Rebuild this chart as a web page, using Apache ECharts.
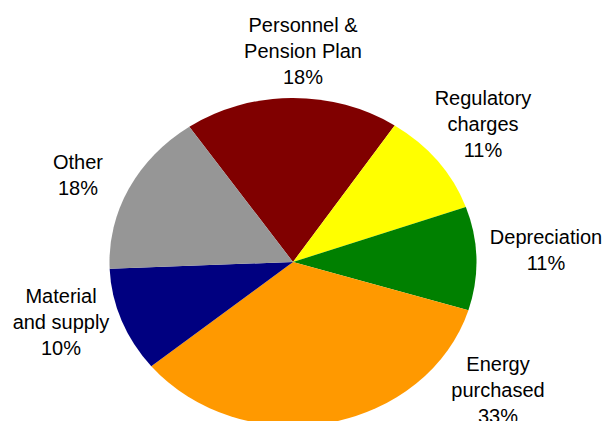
<!DOCTYPE html>
<html>
<head>
<meta charset="utf-8">
<script src="https://cdn.jsdelivr.net/npm/echarts@6/dist/echarts.min.js"></script>
<style>
  html, body { margin: 0; padding: 0; background: #fff; overflow: hidden; }
  #wrap { position: relative; width: 607px; height: 421px; overflow: hidden; }
  #pie, #labels { position: absolute; left: 0; top: 0; width: 607px; height: 421px; }
  #pie { transform-origin: 293px 262px; transform: scaleX(1.119); }
  #labels { pointer-events: none; }
</style>
</head>
<body>
<div id="wrap">
  <div id="pie"></div>
  <div id="labels"></div>
</div>
<script>
// ---- data ----
const categories = ['Personnel &\nPension Plan', 'Regulatory\ncharges', 'Depreciation', 'Energy\npurchased', 'Material\nand supply', 'Other'];
const values = [18.9, 10.2, 10.2, 34.3, 10.3, 16.1];
const pctLabels = ['18%', '11%', '11%', '33%', '10%', '18%'];

// ---- style / layout ----
const colors = ['#800000', '#FFFF00', '#008000', '#FF9900', '#000080', '#969696'];
const CENTER = [293, 262];
const RADIUS = 164;
const START = 124.4;
const labelPos = [[303, 51], [483, 124], [546, 250], [498, 390], [61, 322], [78, 175]];

const seriesData = categories.map((c, i) => ({ name: c, value: values[i] }));

const pie = echarts.init(document.getElementById('pie'), null, { renderer: 'svg' });
pie.setOption({
  animation: false,
  series: [{
    type: 'pie',
    center: CENTER,
    radius: [0, RADIUS],
    startAngle: START,
    clockwise: true,
    label: { show: false },
    labelLine: { show: false },
    itemStyle: { borderWidth: 0 },
    emphasis: { disabled: true },
    data: seriesData.map((d, i) => ({ ...d, itemStyle: { color: colors[i] } }))
  }]
});

const lab = echarts.init(document.getElementById('labels'), null, { renderer: 'svg' });
lab.setOption({
  animation: false,
  series: [{
    type: 'pie',
    center: CENTER,
    radius: [0, RADIUS],
    startAngle: START,
    clockwise: true,
    silent: true,
    itemStyle: { color: 'rgba(0,0,0,0)', borderWidth: 0 },
    labelLine: { show: false },
    label: {
      show: true,
      position: 'outside',
      alignTo: 'none',
      overflow: 'none',
      width: 200,
      color: '#000',
      fontFamily: 'Liberation Sans',
      fontSize: 20,
      lineHeight: 26,
      align: 'center',
      formatter: p => p.name + '\n' + pctLabels[p.dataIndex]
    },
    labelLayout: params => {
      const p = labelPos[params.dataIndex];
      return { x: p[0], y: p[1], align: 'center', verticalAlign: 'middle' };
    },
    emphasis: { disabled: true },
    data: seriesData
  }]
});
</script>
</body>
</html>
